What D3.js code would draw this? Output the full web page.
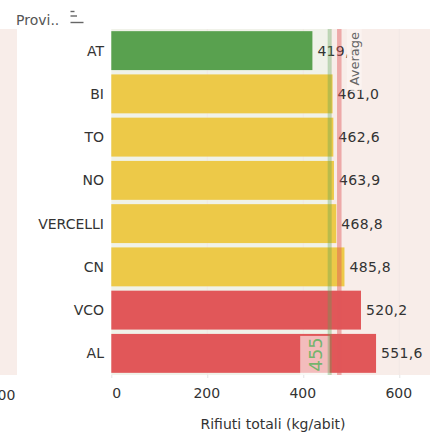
<!DOCTYPE html>
<html><head><meta charset="utf-8">
<script src="https://cdn.jsdelivr.net/npm/d3@7"></script>
<style>
html,body{margin:0;padding:0;background:#fff;}
svg{display:block;font-family:"DejaVu Sans",sans-serif;}
</style></head>
<body><svg id="c" width="440" height="439"></svg>
<script>
// ---- data ----
const provinces = ["AT","BI","TO","NO","VERCELLI","CN","VCO","AL"];
const values = [419.0, 461.0, 462.6, 463.9, 468.8, 485.8, 520.2, 551.6];
const groups = ["sotto","medio","medio","medio","medio","medio","sopra","sopra"];
const groupNames = ["sotto","medio","sopra"];
const groupColors = ["#59a14f","#edc948","#e15759"];
const tickValues = [0, 200, 400, 600];
const target = 455;
const average = 475;
const targetLabel = "455";
const averageLabel = "Average";
const axisTitle = "Rifiuti totali (kg/abit)";
const headerLabel = "Provi..";
const leftPaneTick = "400";

// ---- layout ----
const svg = d3.select("#c");
const pTop = 29, pBottom = 375, pLeft = 111.3, pRight = 430;
const x = d3.scaleLinear().domain([0, 664]).range([pLeft, pRight]);
const y = d3.scaleBand().domain(provinces).range([pTop, pBottom]).paddingInner(0.1).paddingOuter(0.05);
const color = d3.scaleOrdinal().domain(groupNames).range(groupColors);
const fmt = v => d3.format(".1f")(v).replace(".", ",");

// left neighbour pane strip
svg.append("rect").attr("x", 0).attr("y", pTop).attr("width", 17).attr("height", pBottom - pTop).attr("fill", "#f8ede9");
svg.append("text").attr("x", 2).attr("y", 400).attr("text-anchor", "middle")
  .attr("font-size", 14).attr("fill", "#333").text(leftPaneTick);

// plot background bands
svg.append("rect").attr("x", x(0)).attr("y", pTop).attr("width", x(target) - x(0)).attr("height", pBottom - pTop).attr("fill", "#f0f2e9");
svg.append("rect").attr("x", x(target)).attr("y", pTop).attr("width", pRight - x(target)).attr("height", pBottom - pTop).attr("fill", "#f8ede9");

// grid lines
svg.append("g").selectAll("line").data(tickValues.slice(1)).join("line")
  .attr("x1", d => x(d)).attr("x2", d => x(d)).attr("y1", pTop).attr("y2", pBottom)
  .attr("stroke", "#f1e9e6").attr("stroke-width", 1);

// bars
const rows = provinces.map((p, i) => ({p, v: values[i], g: groups[i]}));
svg.append("g").selectAll("rect").data(rows).join("rect")
  .attr("x", x(0)).attr("y", d => y(d.p)).attr("width", d => x(d.v) - x(0)).attr("height", y.bandwidth())
  .attr("fill", d => color(d.g));

// target label box (455)
const alY = y("AL");
svg.append("rect").attr("x", x(target) - 29.5).attr("y", alY + 2).attr("width", 29.5).attr("height", pBottom - alY - 2)
  .attr("fill", "#fff").attr("fill-opacity", 0.6);
svg.append("text")
  .attr("transform", `translate(${x(target) - 8},${alY + y.bandwidth()/2 + 1}) rotate(-90)`)
  .attr("text-anchor", "middle").attr("font-size", 18).attr("fill", "#74b46c").text(targetLabel);

// value labels
svg.append("g").selectAll("text").data(rows).join("text")
  .attr("x", d => x(d.v) + 5).attr("y", d => y(d.p) + y.bandwidth()/2 + 5)
  .attr("font-size", 14).attr("fill", "#333").attr("letter-spacing", 0.3).text(d => fmt(d.v));

// reference lines
svg.append("line").attr("x1", x(target)).attr("x2", x(target)).attr("y1", pTop).attr("y2", pBottom)
  .attr("stroke", "#59a14f").attr("stroke-opacity", 0.35).attr("stroke-width", 4);
svg.append("line").attr("x1", x(average)).attr("x2", x(average)).attr("y1", pTop).attr("y2", pBottom)
  .attr("stroke", "#e15759").attr("stroke-opacity", 0.45).attr("stroke-width", 4.5);

// average label
svg.append("rect").attr("x", x(average) + 7.5).attr("y", pTop).attr("width", 15).attr("height", 61)
  .attr("fill", "#fbf3f0").attr("fill-opacity", 0.92);
svg.append("text")
  .attr("transform", `translate(${x(average) + 19.5},${pTop + 3}) rotate(-90)`)
  .attr("text-anchor", "end").attr("font-size", 13).attr("fill", "#666").text(averageLabel);

// row labels
svg.append("g").selectAll("text").data(provinces).join("text")
  .attr("x", 104).attr("y", d => y(d) + y.bandwidth()/2 + 5)
  .attr("text-anchor", "end").attr("font-size", 14).attr("fill", "#333").text(d => d);

// x axis
const ax = svg.append("g").attr("transform", `translate(0,${pBottom})`)
  .call(d3.axisBottom(x).tickValues(tickValues).tickSize(3).tickPadding(10).tickFormat(d3.format("d")));
ax.select(".domain").remove();
ax.selectAll(".tick line").attr("stroke", "#e4e4e4");
ax.selectAll(".tick text").attr("font-size", 14).attr("fill", "#333").attr("font-family", "DejaVu Sans")
  .attr("dx", (d, i) => i === 0 ? 5 : -1);
svg.append("text").attr("x", 273).attr("y", 429).attr("text-anchor", "middle")
  .attr("font-size", 14).attr("fill", "#333").text(axisTitle);

// header
svg.append("text").attr("x", 16).attr("y", 25).attr("font-size", 14).attr("fill", "#555").text(headerLabel);
const icon = svg.append("g").attr("stroke", "#666").attr("stroke-width", 1.4);
[[11.5, 4], [16, 6.5], [22.5, 13]].forEach(([yy, w]) =>
  icon.append("line").attr("x1", 70.5).attr("x2", 70.5 + w).attr("y1", yy).attr("y2", yy));
</script></body></html>
